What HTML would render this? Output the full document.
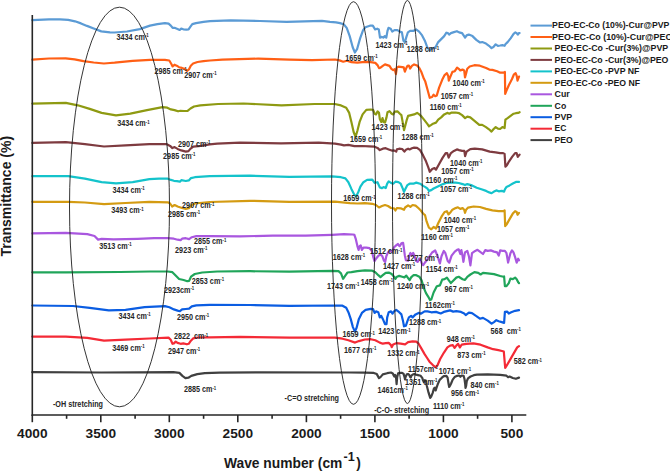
<!DOCTYPE html><html><head><meta charset="utf-8"><style>html,body{margin:0;padding:0;background:#fff;}svg{display:block;}text{font-family:"Liberation Sans",sans-serif;}</style></head><body>
<svg width="670" height="471" viewBox="0 0 670 471">
<rect width="670" height="471" fill="#fff"/>
<g fill="none" stroke-width="2.2" stroke-linejoin="round" stroke-linecap="round">
<polyline stroke="#404040" points="32.3,372.2 101.6,372.5 173.4,372.2 179.4,372.9 182.4,375.9 185.4,378.1 188.4,377.7 191.3,375.9 197.3,374.1 204.8,373.2 219.7,372.6 260,372.4 350,372.5 364.9,372.6 373.8,372.9 376.8,374.1 379,378.1 380.5,377.1 382.8,374.4 387.2,373.2 391,372.5 392.8,373.4 393.7,375.5 394.3,376.5 395.1,375 396,377 396.6,384.1 397.2,377 398.1,373.4 399.9,372.8 401.7,372.8 403.5,373.7 404.4,376.6 405,379.3 405.6,376.9 406.8,374.3 408,374 409.2,374.9 410.1,376.9 410.7,377.5 411.6,375.4 412.8,374.6 414.3,374 416,374.6 418,375.1 420.7,375.8 422.4,378.2 423.1,380.6 423.8,381.9 424.8,380.2 425.8,380.6 426.8,385.7 428.5,392.4 430.2,397.9 431.2,396.5 432.6,393.1 434,388.4 435,387.7 435.7,390.4 436.3,388.4 437.7,384.3 439.7,379.9 441.9,377.7 443.8,376.1 446.4,375.8 447.6,377.7 448.6,384.1 449.2,387 450.2,385.4 451.1,383.5 452.7,379.6 454.6,377.1 457.2,375.8 459.1,375.5 460.4,376.8 461.7,375.5 463.6,375.8 464.5,379 465.2,384.1 465.5,387.9 466.1,386 466.8,380.9 468,378.4 470.6,376.5 473.8,375.2 476.9,374.6 487.7,374.4 500.2,374.9 506.5,375.7 508.1,377.2 509.6,376.5 512.8,378 515.9,378.8 519,377.6"/>
<polyline stroke="#F42A36" points="32.3,336.6 65.8,336.6 87.3,337.8 104,340.6 125.5,339.7 149.4,338.5 168.5,337.6 170.7,339.8 172.5,343.8 173.9,343.4 175.7,341.6 177.5,342.9 180.6,343.8 183.3,343.4 186.9,344.3 188.7,343.8 190.9,340.7 193.1,338.4 197.6,337.5 209.7,337.3 240,336.8 289.3,337.6 335,337.7 342.5,338.7 348.4,340.2 355.1,342.6 358.9,341.1 364.9,339.5 370.8,339.2 375.3,340.2 379.8,342.6 382.8,343.7 385.7,343.2 388.7,342.9 391,345.1 391.7,347.1 393.2,344.4 396.2,343.2 400.7,343.7 405.1,344.4 408.1,342.2 412.6,341.4 416.3,341.7 418.6,343.7 421.6,348.9 424.6,354.1 426.8,357.5 429.5,361.7 433.1,365.3 435.7,367.4 437.5,365.3 440.2,359 443.8,352.8 447.4,347.4 450.1,345.6 452.8,345.1 454.6,347.9 456.3,345.6 458.1,343.8 459.9,347.4 461.7,344.7 466.2,343.8 473.4,343.4 480.5,344.7 487.7,347.4 493.1,349.2 498.4,350.1 502,351 503.8,351.5 505.2,368 507.4,364.4 511,358.1 514.6,351.9 517.2,347.4 519,346.1"/>
<polyline stroke="#0B5DE2" points="32.3,305.5 73,306 89.7,307.9 108.8,310.3 125.5,309.8 144.6,307.2 164.9,306.1 169.4,307.2 173.9,309.4 177.6,310.6 179.9,311.2 182.1,309.4 185.8,309 189.1,308.7 191.8,306.4 196.3,305.4 209.7,304.9 250,305 289.3,305.9 335.2,305.5 342.5,305.7 346.2,307.7 348.4,312.2 350.7,318.9 352.9,327.1 354.9,331.6 356.6,327.8 358.9,318.9 361.9,312.9 365.6,309.9 370.8,308.9 373.1,309.2 374.6,312.9 376,311.4 378.3,312.2 379.8,317.4 381.3,315.9 382.8,318.9 385,324.1 386.5,324.1 387.2,317.4 388.7,312.2 391,311.4 392.5,313.7 394,311.4 396.2,309.9 399.2,312.2 401.4,314.4 402.9,320.4 404,326.3 405.9,325.6 407.4,321.1 408.9,317.4 411.1,315.9 412.6,317.4 415.6,314.4 418.6,312.9 420.8,313.7 424.6,311.4 427.5,311.4 431.3,312.3 436,311.9 440.7,313.5 443.8,311.9 450.1,310.4 453.2,311.6 456.3,311.2 461,311.9 464.2,313.5 465.7,315.1 468.9,312.7 472,313.2 476.7,316.3 479.9,318.7 483,317.9 487.7,320.6 491.6,323.7 494,322.1 496.3,320.2 498.7,321.3 501.8,322.1 504.1,322.9 504.9,311.9 507.3,311.6 508.8,313.5 511.2,312.3 515.1,310.8 519,310.1"/>
<polyline stroke="#20A55A" points="32.3,272.3 65.8,272.3 120,272 150,271.5 167.9,271.5 172.4,272.2 175.4,275.2 179.1,279 183.6,280 187.3,281.2 189.1,280.9 191,276.7 194.8,274 202.2,272.5 217.2,271.5 250,271.2 289.3,271.7 332,270.9 338.5,271.2 341,273.4 343.1,278.8 345.1,275.8 347.5,272.5 351.4,272.2 357.4,271.1 364.9,270.4 372.3,270.7 375.3,272.2 378.3,275.2 380.5,277.1 382.8,275.2 385.7,272.9 388.7,272.6 391.7,274.1 394,276.7 395.4,278.9 396.9,276.7 399.2,275.9 402.2,276.7 404.4,277.4 406.3,275.6 408.1,278.1 409.6,280.1 411.1,277.4 413.4,275.2 416.3,275.2 419.3,276.7 421.6,280.4 423.8,287.9 426,293.1 428.3,296.8 430,300 431.3,299.5 433.6,292.5 436.8,286.2 439.9,285.4 442.2,279.6 444.6,279.2 446.9,277.6 448.5,279.9 450.9,283.1 453.2,280.7 456.3,277.6 458.7,276.8 462.6,279.2 465,279.9 467.3,276.8 470.4,274.5 474.4,272.1 478.3,272.9 480.6,274.5 483,272.9 487.7,273.4 494,274.1 500.2,276 503.4,276.8 504.1,276.5 504.9,286.2 506.5,286.2 508.8,283.1 510.4,278.7 512.8,279.2 515.1,277.6 516.7,279.2 518.2,282.3 519,283.1"/>
<polyline stroke="#A957DF" points="32.3,233.4 65.8,232.9 87.3,234.1 94.5,236 98.1,239.6 101.6,238.9 113.6,239.4 137.5,238.9 154.2,238.2 167.9,238.2 173.9,238.7 177.6,239.7 180.6,240.1 182.1,238.7 185.8,238.2 189.1,239.1 191.8,237.2 196.3,236.1 209.7,236.1 240,236.4 272.8,235.6 305.7,235.6 332,234.8 344,234.2 352.9,234.5 354.4,234.9 355.9,239.4 357.4,246.1 358.6,249.9 359.6,246.1 360.7,245.4 361.9,249.9 363.4,247.6 366.3,247.6 369.5,248.2 371.7,250.7 373.4,257.4 374.5,261.3 376.2,258.5 378.4,255.7 380.7,254.6 382.4,256.3 384,260.8 385.2,261.9 386.3,256.3 388,252.4 390.2,250.7 391.9,251.8 394.1,247.3 396.4,245.1 398,244 398.6,245.1 399.7,246.2 401.4,243.4 403.1,242.8 403.6,246.2 404.8,255.2 405.9,260.2 408.1,260.8 409.2,255.7 410.4,252.9 411.5,255.7 413.2,252.9 414.3,255.2 415.9,260.8 417.6,261.9 419.3,258.5 421,261.3 422.1,264.1 423.2,265.2 425,262.5 427.4,259.5 429.7,256 432.1,252.5 435.2,250.5 437.5,256 439.9,263.4 441.5,256.3 443.8,250.9 445.4,253.2 447.7,261 449.3,262.6 451.6,255.6 454.8,251.6 457.1,249.8 458.7,249.3 460.3,254 461.4,250.1 462.6,256.3 463.4,261.8 465,252.4 467.3,250.9 468.9,256.3 470.4,265.4 472,253.2 475.2,250.9 477.5,249.8 479.9,251.6 483,254 485.3,250.1 487.7,250.9 490.8,250.4 494,251.6 497.1,252.4 498.7,255.6 500.2,250.4 502.6,250.9 504.9,250.9 506.5,253.2 508.1,262.6 510.4,253.2 512,250.4 513.5,252.4 515.1,257.1 516.7,262.6 518.2,258.7 519,260.3"/>
<polyline stroke="#D49B12" points="32.3,201.8 68.2,201.8 84.9,202.5 104,204.2 125.5,203 149.4,201.8 167.9,202.3 170.1,203.5 172.1,206.5 174.6,205 177.6,206.5 182.1,208 185.8,209 188.8,208.3 191.8,205 194.8,203.5 209.7,202 250,200.8 289.3,201.9 335,201.6 342.5,202.3 349.9,203.1 357.4,203.5 364.9,203.1 372.3,203.8 376,205 379,207.5 382,206 385,205 388,206 391,208 394,208.3 395.4,210.5 396.9,208 400.7,208.3 404,209.8 405.1,207.5 408.1,205.3 410.4,206.8 412.6,205 415.6,205.6 418.6,208.3 420.8,210.5 423.1,213.5 425,215.1 426.6,221.4 428.9,227.7 431.3,229.3 433.6,226.9 436,228.5 438.3,223 441.5,216.7 444.6,212 446.9,211.2 448.5,214.4 450.1,212.8 452.4,209.7 455.6,208.1 457.9,207.3 460.3,208.9 462.6,208.1 464.2,209.7 465,212.8 466.1,209.7 468.1,207.6 473.6,206.5 479.9,207 486.1,208.9 492.4,210.4 498.7,211.2 503.4,211.2 504.6,210.4 505.2,226.1 506.5,224.6 509.6,219.1 512.8,213.6 515.1,211.2 516.7,212 517.5,214.8 519,212.8"/>
<polyline stroke="#14C3CB" points="32.3,176.2 68.2,176.2 84.9,178.6 101.6,182.2 116,183.4 132.7,182.2 149.4,179.1 159,178.7 167.9,178.7 170.9,179.9 173.9,180.8 176.9,181.1 179.9,181.7 181.3,180.2 185.8,181 188.8,180.4 191,178.1 194.8,177.2 209.7,176.2 250,175.7 289.3,176.9 332,176.4 341,177.2 345.4,178.4 348.4,182.2 351.4,188.9 354.4,194.9 356.2,196.3 358.1,192.6 360.4,186.6 363.4,182.2 367.1,179.9 372.3,179.6 374.6,182.9 377.5,182.2 379.8,187.4 382,188.1 383.5,187.1 385.7,188.1 387.2,183.7 388.7,181.4 391,182.9 393.2,183.7 395.4,181.7 398.4,182.2 400.7,183.7 402.9,188.9 404,191.9 405.1,189.6 407.4,185.1 409.6,183.7 413.4,183.7 416.3,182.6 420.1,183.7 423.1,185.9 425,186.9 427.4,188.5 428.9,190.9 431.3,190.1 433.6,188.5 436.8,186.9 439.9,185.4 443,184.1 446.2,183 450.1,182.6 455.6,182.6 458.7,183 462.6,184.1 465,185.1 467.3,184.1 472,185.4 476.7,187.7 481.4,189.3 486.1,190.9 489.3,192.4 491.6,193.2 494,191.6 496.3,190.4 498.7,191.3 501.8,190.9 504.1,191.6 504.9,189.3 506.5,186.9 509.6,185.4 512.8,183.5 515.9,181.9 519,181.9"/>
<polyline stroke="#7E3B40" points="32.3,142.9 65.8,142.2 84.9,144.1 104,146.5 125.5,145.3 149.4,144.1 166.4,144.1 170.1,145.9 172.4,148.1 174.6,147.1 177.6,148.9 181.3,150.4 185.8,151.6 188.5,151.1 190.3,148.9 193.3,146.6 200.7,145.9 209.7,144.4 217.2,143.7 240,142.7 281,143.4 318.8,142.7 335,143.7 341,144.6 344,145.4 348.4,144.9 354.4,146.1 361.9,146 369.3,146.4 374.6,146.7 377.5,147.9 379.8,150.1 382.8,148.7 385.7,148.2 388.7,149.4 391.7,150.6 394,150.4 396.2,151.6 396.9,149.4 399.2,148.7 402.2,149 404.4,151.6 405.9,149.7 408.1,148.7 409.6,149.4 411.9,148.2 414.1,147.6 417.1,147.9 420.1,150.1 423.1,155.4 426,161.3 428.3,167.3 429.8,171.8 432.2,169.1 434.5,168.1 436,169.6 439,164.3 442.7,157.6 445.7,153.1 447.2,153.1 448.7,157.6 450.9,153.1 453.9,150.9 456.9,149.4 459.1,150.1 462.1,150.9 464.3,150.9 465.1,156.1 466.6,151.6 470.3,149.1 474.8,148.7 482.2,149.4 489.7,151.6 495.7,152.4 500.1,153.1 503.1,153.1 504.6,153.9 505.4,166.6 506.9,165.1 509.1,161.3 512.1,156.9 515.1,153.1 516.6,153.1 517.8,156.9 519.6,154.6"/>
<polyline stroke="#8E9A12" points="32.3,103.6 65.8,102.9 77.8,105.3 89.7,108.9 101.6,112.9 116,115.3 130.3,113.7 147,110.1 162.5,107.2 167.3,107.7 170.9,109.4 174.5,110.1 178.1,111.3 180.4,110.8 184,111 187.6,110.8 190.5,108.5 194,106.5 200.3,105.3 218.1,104 243.5,103.5 281.5,105.3 314.5,104 334.8,104 341,105.4 346.2,107.7 349.2,112.9 351.4,121.9 353.7,132.3 355.6,136.8 357.4,130.8 359.6,121.9 362.6,114.4 366.3,109.9 370.8,109.5 373.1,109.9 374.6,113.7 376,114.4 377.5,111.4 379,112.9 379.8,118.9 381.3,121.9 382.5,118.1 383.5,121.9 385,122.6 386.5,117.4 387.5,112.2 389.5,111.1 391.7,113.7 393.2,114.4 394.7,111.7 397.7,111.4 399.9,113.7 401.4,115.1 402.9,123.4 404,130.1 405.1,126.3 406.6,120.4 408.1,115.9 411.1,115.1 414.1,114.4 417.1,112.9 419.3,114.4 421.6,116.6 424.6,120.4 427.5,124.1 429,126.3 431.3,124.9 433,123.7 436,122.6 438.2,119.6 441.2,117.4 444.2,114.4 447.2,112.9 449.4,113.7 451.6,112.6 455.4,112.5 459.1,113.2 462.1,115.1 465.1,118.1 467.3,116.6 470.3,117.4 474.8,121.1 479.3,124.9 482.2,124.9 486,127.1 489,129.3 491.5,131.6 493.4,129.3 495.7,127.1 497.9,128.6 500.1,129 502.4,127.1 504.6,128.1 505.4,119.6 507.6,118.1 510.6,115.9 513.6,113.7 515.8,113.2 518.1,112.9 519.6,112.2"/>
<polyline stroke="#FF5F15" points="32.3,59.7 49,58.5 65.7,58.4 74.6,59.4 83.5,61.2 93.7,62.5 103.9,63.5 110,63 114.6,62.7 132.6,60.9 150,59.8 164.9,59.8 169.3,60.5 171.5,64.2 172.6,66.4 174.5,64.7 176.7,65.7 179,67.2 181.9,67.9 184.9,69.1 187.1,70.9 188.9,69.4 190.8,65.7 193.1,63.5 197.5,62 203.5,61.2 210,60.5 222.4,59.7 258.2,58.6 289.5,59.7 312,60.1 335,59.5 339.5,60.4 343.2,61.7 346.9,60.7 351.4,62.2 357.4,62.6 364.9,61.9 370.8,62.2 375.3,62.9 377.5,65.1 379,68.1 380.5,67.7 382.8,65.9 385,64.4 387.2,65.1 389.5,65.9 391.4,68.9 393.2,70.1 394.7,69.2 395.9,74.1 396.9,67.4 398.4,66.6 402.2,67.1 403.7,67.4 404.9,71.6 406.3,68.1 407.4,65.9 408.9,65.6 410.1,68.6 411.9,65.9 414.1,64.4 417.1,65.6 419.3,68.1 421.6,72.6 423.8,78.6 425.3,81.6 427.4,89.2 429.7,97.8 432.1,97 433.6,94.7 435.2,96.2 436.8,95.4 439.1,87.6 442.2,79.8 444.6,75.1 446.9,73.2 448.2,75.9 448.8,80.6 450.1,77.4 452.4,71.9 454.8,71.2 457.1,67.6 458.7,68.8 460.3,70.4 462.6,69.6 464.2,70.4 465,77.4 466.1,73.5 467.3,68.8 469.7,66.5 474.4,65.2 479.9,65.7 486.1,68 489.3,69.6 492.4,69.9 497.1,71.2 500.2,72.7 503.4,72.7 504.9,71.9 505.2,93.9 506.5,90.7 508.8,85.3 512,79 514,74.3 515.6,73.2 516.7,75.9 517.5,80.6 519,76.6"/>
<polyline stroke="#5B9BD5" points="32.3,20.2 49,19.3 60,19.4 68.2,19.9 75,21.3 81,23.4 87,25.9 93.7,28.5 101.3,31.4 110,32.3 114.6,32.5 127,31.5 139.8,29.1 150,25.6 157.4,24.1 164.9,23.1 168.6,23.7 170.8,25.6 172.6,27.8 174.5,27.8 177.5,29 179.7,30 181.2,28.6 183.4,29.3 186.4,29.6 188.6,29.3 190.1,27.1 192.3,24.1 196,23.1 203.5,21.9 210,21.1 230.8,20.3 260,21 286.6,21.8 322,20.8 330,21.8 336,22.4 340,23.1 343.7,24.2 346.7,27.9 349.7,36.1 352.7,47.3 354.9,52.5 357.2,48.8 360.1,38.4 363.1,30.1 365.4,27.2 369.9,25.7 372.8,25.7 375.1,29.4 377.3,28.7 378.8,29.4 380,37.6 381.8,36.9 383.3,37.6 384.8,36.1 386.3,37.6 387.5,30.9 388.5,27.9 390.7,28.7 392.2,31.6 394.5,30.1 397.5,30.1 399.7,31.6 401.9,32.4 403.4,40.6 404.9,42.1 406.4,36.9 407.9,32.4 410.1,30.9 413.1,30.9 416.1,29.4 419.1,31.6 422.1,35.4 425.1,41.3 427.3,47.3 429.6,50.3 431.8,48.8 435.5,47.3 438.2,42.1 441.2,39.1 444.2,36.1 446.4,32.7 447.9,33.1 449.1,34.6 450.9,33.1 453.9,32.1 456.9,31.2 459.1,32.4 462.1,33.1 463.6,35.4 465.1,37.6 466.6,35.4 468.8,34.6 472.5,36.1 476.3,39.9 480,42.5 482.2,42.1 486,43.6 489,45.8 491.5,48.1 493.4,47 495.7,44.3 497.9,45.8 500.1,45.5 502.4,45.1 504.6,45.8 505.4,44.3 507.6,42.1 510.6,38.4 513.6,33.9 515.4,32.4 516.6,33.1 517.8,34.6 518.8,33.1 519.6,33.1"/>
</g>
<g fill="none" stroke="#1e1e1e" stroke-width="0.9">
<ellipse cx="119.5" cy="207" rx="50" ry="199.8"/>
<ellipse cx="353.5" cy="203" rx="22" ry="201.3"/>
<ellipse cx="407.4" cy="202" rx="14.9" ry="201.5"/>
</g>
<g stroke="#262626" stroke-width="1.6" fill="none">
<line x1="32.3" y1="15" x2="32.3" y2="415.8"/>
<line x1="31.5" y1="415" x2="526.3" y2="415"/>
<line x1="32.3" y1="415" x2="32.3" y2="422.2"/>
<line x1="100.8" y1="415" x2="100.8" y2="422.2"/>
<line x1="169.3" y1="415" x2="169.3" y2="422.2"/>
<line x1="237.8" y1="415" x2="237.8" y2="422.2"/>
<line x1="306.4" y1="415" x2="306.4" y2="422.2"/>
<line x1="374.9" y1="415" x2="374.9" y2="422.2"/>
<line x1="443.4" y1="415" x2="443.4" y2="422.2"/>
<line x1="511.9" y1="415" x2="511.9" y2="422.2"/>
<line x1="66.6" y1="415" x2="66.6" y2="418.8"/>
<line x1="135.1" y1="415" x2="135.1" y2="418.8"/>
<line x1="203.6" y1="415" x2="203.6" y2="418.8"/>
<line x1="272.1" y1="415" x2="272.1" y2="418.8"/>
<line x1="340.6" y1="415" x2="340.6" y2="418.8"/>
<line x1="409.1" y1="415" x2="409.1" y2="418.8"/>
<line x1="477.6" y1="415" x2="477.6" y2="418.8"/>
</g>
<g font-size="13.7" font-weight="bold" fill="#1a1a1a" text-anchor="middle">
<text x="32.3" y="438.2">4000</text>
<text x="100.8" y="438.2">3500</text>
<text x="169.3" y="438.2">3000</text>
<text x="237.8" y="438.2">2500</text>
<text x="306.4" y="438.2">2000</text>
<text x="374.9" y="438.2">1500</text>
<text x="443.4" y="438.2">1000</text>
<text x="511.9" y="438.2">500</text>
</g>
<text x="224" y="467.6" font-size="13.8" font-weight="bold" fill="#1a1a1a">Wave number (cm<tspan font-size="12.6" dx="1.2" dy="-6.8">-1</tspan><tspan dx="1.5" dy="6.8">)</tspan></text>
<text transform="translate(11.2,196.2) rotate(-90)" text-anchor="middle" font-size="14" font-weight="bold" fill="#1a1a1a">Transmittance (%)</text>
<g font-size="8.4" font-weight="bold" fill="#262626" letter-spacing="0">
<text transform="translate(116.4,40.2) scale(0.86,1)" xml:space="preserve">3434 cm<tspan font-size="5.0" dy="-2.8">-1</tspan></text>
<text transform="translate(375.4,47.5) scale(0.86,1)" xml:space="preserve">1423 cm<tspan font-size="5.0" dy="-2.8">-1</tspan></text>
<text transform="translate(406.7,52.3) scale(0.86,1)" xml:space="preserve">1288 cm<tspan font-size="5.0" dy="-2.8">-1</tspan></text>
<text transform="translate(345.3,60.9) scale(0.86,1)" xml:space="preserve">1659 cm<tspan font-size="5.0" dy="-2.8">-1</tspan></text>
<text transform="translate(154.5,73.9) scale(0.86,1)" xml:space="preserve">2985 cm<tspan font-size="5.0" dy="-2.8">-1</tspan></text>
<text transform="translate(184.2,78.1) scale(0.86,1)" xml:space="preserve">2907 cm<tspan font-size="5.0" dy="-2.8">-1</tspan></text>
<text transform="translate(452.4,85.9) scale(0.86,1)" xml:space="preserve">1040 cm<tspan font-size="5.0" dy="-2.8">-1</tspan></text>
<text transform="translate(440.7,98.6) scale(0.86,1)" xml:space="preserve">1057 cm<tspan font-size="5.0" dy="-2.8">-1</tspan></text>
<text transform="translate(429.7,109.9) scale(0.86,1)" xml:space="preserve">1160 cm<tspan font-size="5.0" dy="-2.8">-1</tspan></text>
<text transform="translate(117.2,126.4) scale(0.86,1)" xml:space="preserve">3434 cm<tspan font-size="5.0" dy="-2.8">-1</tspan></text>
<text transform="translate(371.6,129.8) scale(0.86,1)" xml:space="preserve">1423 cm<tspan font-size="5.0" dy="-2.8">-1</tspan></text>
<text transform="translate(349.9,142.2) scale(0.86,1)" xml:space="preserve">1659 cm<tspan font-size="5.0" dy="-2.8">-1</tspan></text>
<text transform="translate(401.4,139.9) scale(0.86,1)" xml:space="preserve">1288 cm<tspan font-size="5.0" dy="-2.8">-1</tspan></text>
<text transform="translate(178,146.8) scale(0.86,1)" xml:space="preserve">2907 cm<tspan font-size="5.0" dy="-2.8">-1</tspan></text>
<text transform="translate(163.1,159) scale(0.86,1)" xml:space="preserve">2985 cm<tspan font-size="5.0" dy="-2.8">-1</tspan></text>
<text transform="translate(450.1,165.5) scale(0.86,1)" xml:space="preserve">1040 cm<tspan font-size="5.0" dy="-2.8">-1</tspan></text>
<text transform="translate(441.2,173.7) scale(0.86,1)" xml:space="preserve">1057 cm<tspan font-size="5.0" dy="-2.8">-1</tspan></text>
<text transform="translate(425.5,182.5) scale(0.86,1)" xml:space="preserve">1160 cm<tspan font-size="5.0" dy="-2.8">-1</tspan></text>
<text transform="translate(112.4,192.5) scale(0.86,1)" xml:space="preserve">3434 cm<tspan font-size="5.0" dy="-2.8">-1</tspan></text>
<text transform="translate(343.2,201.3) scale(0.86,1)" xml:space="preserve">1659 cm<tspan font-size="5.0" dy="-2.8">-1</tspan></text>
<text transform="translate(397.4,198.7) scale(0.86,1)" xml:space="preserve">1288 cm<tspan font-size="5.0" dy="-2.8">-1</tspan></text>
<text transform="translate(439.9,192) scale(0.86,1)" xml:space="preserve">1057 cm<tspan font-size="5.0" dy="-2.8">-1</tspan></text>
<text transform="translate(111.2,213.3) scale(0.86,1)" xml:space="preserve">3493 cm<tspan font-size="5.0" dy="-2.8">-1</tspan></text>
<text transform="translate(182.1,208.3) scale(0.86,1)" xml:space="preserve">2907 cm<tspan font-size="5.0" dy="-2.8">-1</tspan></text>
<text transform="translate(167.9,217) scale(0.86,1)" xml:space="preserve">2985 cm<tspan font-size="5.0" dy="-2.8">-1</tspan></text>
<text transform="translate(443.8,222.9) scale(0.86,1)" xml:space="preserve">1040 cm<tspan font-size="5.0" dy="-2.8">-1</tspan></text>
<text transform="translate(437,231.7) scale(0.86,1)" xml:space="preserve">1057 cm<tspan font-size="5.0" dy="-2.8">-1</tspan></text>
<text transform="translate(421,239.7) scale(0.86,1)" xml:space="preserve">1160 cm<tspan font-size="5.0" dy="-2.8">-1</tspan></text>
<text transform="translate(99.2,248.7) scale(0.86,1)" xml:space="preserve">3513 cm<tspan font-size="5.0" dy="-2.8">-1</tspan></text>
<text transform="translate(194,244.3) scale(0.86,1)" xml:space="preserve">2855 cm<tspan font-size="5.0" dy="-2.8">-1</tspan></text>
<text transform="translate(175.1,252.6) scale(0.86,1)" xml:space="preserve">2923 cm<tspan font-size="5.0" dy="-2.8">-1</tspan></text>
<text transform="translate(332.8,259.6) scale(0.86,1)" xml:space="preserve">1628 cm<tspan font-size="5.0" dy="-2.8">-1</tspan></text>
<text transform="translate(370,254.3) scale(0.86,1)" xml:space="preserve">1512 cm<tspan font-size="5.0" dy="-2.8">-1</tspan></text>
<text transform="translate(382.9,268.8) scale(0.86,1)" xml:space="preserve">1427 cm<tspan font-size="5.0" dy="-2.8">-1</tspan></text>
<text transform="translate(406.4,260.7) scale(0.86,1)" xml:space="preserve">1277 cm<tspan font-size="5.0" dy="-2.8">-1</tspan></text>
<text transform="translate(425.8,272.2) scale(0.86,1)" xml:space="preserve">1154 cm<tspan font-size="5.0" dy="-2.8">-1</tspan></text>
<text transform="translate(191.8,284.2) scale(0.86,1)" xml:space="preserve">2853 cm<tspan font-size="5.0" dy="-2.8">-1</tspan></text>
<text transform="translate(163.9,292.5) scale(0.86,1)" xml:space="preserve">2923cm<tspan font-size="5.0" dy="-2.8">-1</tspan></text>
<text transform="translate(327,288.7) scale(0.86,1)" xml:space="preserve">1743 cm<tspan font-size="5.0" dy="-2.8">-1</tspan></text>
<text transform="translate(360.7,284.9) scale(0.86,1)" xml:space="preserve">1458 cm<tspan font-size="5.0" dy="-2.8">-1</tspan></text>
<text transform="translate(396.9,288.8) scale(0.86,1)" xml:space="preserve">1240 cm<tspan font-size="5.0" dy="-2.8">-1</tspan></text>
<text transform="translate(444.6,292) scale(0.86,1)" xml:space="preserve">967 cm<tspan font-size="5.0" dy="-2.8">-1</tspan></text>
<text transform="translate(425,308) scale(0.86,1)" xml:space="preserve">1162cm<tspan font-size="5.0" dy="-2.8">-1</tspan></text>
<text transform="translate(118.4,318.5) scale(0.86,1)" xml:space="preserve">3434 cm<tspan font-size="5.0" dy="-2.8">-1</tspan></text>
<text transform="translate(176.9,320) scale(0.86,1)" xml:space="preserve">2950 cm<tspan font-size="5.0" dy="-2.8">-1</tspan></text>
<text transform="translate(342.5,337.3) scale(0.86,1)" xml:space="preserve">1659 cm<tspan font-size="5.0" dy="-2.8">-1</tspan></text>
<text transform="translate(378.3,334.3) scale(0.86,1)" xml:space="preserve">1423 cm<tspan font-size="5.0" dy="-2.8">-1</tspan></text>
<text transform="translate(408.9,325.3) scale(0.86,1)" xml:space="preserve">1288 cm<tspan font-size="5.0" dy="-2.8">-1</tspan></text>
<text transform="translate(490.6,333.7) scale(0.86,1)" xml:space="preserve">568  cm<tspan font-size="5.0" dy="-2.8">-1</tspan></text>
<text transform="translate(112.3,351.2) scale(0.86,1)" xml:space="preserve">3469 cm<tspan font-size="5.0" dy="-2.8">-1</tspan></text>
<text transform="translate(173.9,339.3) scale(0.86,1)" xml:space="preserve">2822  cm<tspan font-size="5.0" dy="-2.8">-1</tspan></text>
<text transform="translate(167.9,353.9) scale(0.86,1)" xml:space="preserve">2947 cm<tspan font-size="5.0" dy="-2.8">-1</tspan></text>
<text transform="translate(344,352.8) scale(0.86,1)" xml:space="preserve">1677 cm<tspan font-size="5.0" dy="-2.8">-1</tspan></text>
<text transform="translate(387.2,356.4) scale(0.86,1)" xml:space="preserve">1332 cm<tspan font-size="5.0" dy="-2.8">-1</tspan></text>
<text transform="translate(408.1,372) scale(0.86,1)" xml:space="preserve">1157cm<tspan font-size="5.0" dy="-2.8">-1</tspan></text>
<text transform="translate(446.7,342.1) scale(0.86,1)" xml:space="preserve">948 cm<tspan font-size="5.0" dy="-2.8">-1</tspan></text>
<text transform="translate(457.3,357.6) scale(0.86,1)" xml:space="preserve">873 cm<tspan font-size="5.0" dy="-2.8">-1</tspan></text>
<text transform="translate(438.8,373.5) scale(0.86,1)" xml:space="preserve">1071 cm<tspan font-size="5.0" dy="-2.8">-1</tspan></text>
<text transform="translate(513.7,364.4) scale(0.86,1)" xml:space="preserve">582 cm<tspan font-size="5.0" dy="-2.8">-1</tspan></text>
<text transform="translate(183.9,392.3) scale(0.86,1)" xml:space="preserve">2885 cm<tspan font-size="5.0" dy="-2.8">-1</tspan></text>
<text transform="translate(377.5,393.1) scale(0.86,1)" xml:space="preserve">1461cm<tspan font-size="5.0" dy="-2.8">-1</tspan></text>
<text transform="translate(405.1,384.6) scale(0.86,1)" xml:space="preserve">1351 cm<tspan font-size="5.0" dy="-2.8">-1</tspan></text>
<text transform="translate(432.9,408.5) scale(0.86,1)" xml:space="preserve">1110 cm<tspan font-size="5.0" dy="-2.8">-1</tspan></text>
<text transform="translate(450.9,396.4) scale(0.86,1)" xml:space="preserve">956 cm<tspan font-size="5.0" dy="-2.8">-1</tspan></text>
<text transform="translate(470.5,387.8) scale(0.86,1)" xml:space="preserve">840 cm<tspan font-size="5.0" dy="-2.8">-1</tspan></text>
</g>
<g font-size="8.4" font-weight="bold" fill="#262626">
<text transform="translate(52.9,407.1) scale(0.86,1)">-OH stretching</text>
<text transform="translate(284.6,401.3) scale(0.86,1)">-C=O stretching</text>
<text transform="translate(374.2,412.6) scale(0.86,1)">-C-O- stretching</text>
</g>
<g font-size="9.4" font-weight="bold" fill="#1a1a1a">
<line x1="530.5" y1="25.6" x2="552" y2="25.6" stroke="#5B9BD5" stroke-width="2"/>
<text x="552.1" y="28.4" textLength="117.2" lengthAdjust="spacingAndGlyphs">PEO-EC-Co (10%)-Cur@PVP</text>
<line x1="530.5" y1="37" x2="552" y2="37" stroke="#FF5F15" stroke-width="2"/>
<text x="552.1" y="39.8" textLength="120.2" lengthAdjust="spacingAndGlyphs">PEO-EC-Co (10%)-Cur@PEO</text>
<line x1="530.5" y1="48.5" x2="552" y2="48.5" stroke="#8E9A12" stroke-width="2"/>
<text x="554.6" y="51.2" textLength="113.6" lengthAdjust="spacingAndGlyphs">PEO-EC-Co -Cur(3%)@PVP</text>
<line x1="530.5" y1="59.9" x2="552" y2="59.9" stroke="#7E3B40" stroke-width="2"/>
<text x="554.6" y="62.7" textLength="113.8" lengthAdjust="spacingAndGlyphs">PEO-EC-Co -Cur(3%)@PEO</text>
<line x1="530.5" y1="71.4" x2="552" y2="71.4" stroke="#14C3CB" stroke-width="2"/>
<text x="554.6" y="74.2" textLength="84.8" lengthAdjust="spacingAndGlyphs">PEO-EC-Co -PVP NF</text>
<line x1="530.5" y1="82.8" x2="552" y2="82.8" stroke="#D49B12" stroke-width="2"/>
<text x="554.6" y="85.6" textLength="85.4" lengthAdjust="spacingAndGlyphs">PEO-EC-Co -PEO NF</text>
<line x1="530.5" y1="94.3" x2="552" y2="94.3" stroke="#A957DF" stroke-width="2"/>
<text x="554.6" y="97" textLength="15.2" lengthAdjust="spacingAndGlyphs">Cur</text>
<line x1="530.5" y1="105.8" x2="552" y2="105.8" stroke="#20A55A" stroke-width="2"/>
<text x="554.6" y="108.5" textLength="11.6" lengthAdjust="spacingAndGlyphs">Co</text>
<line x1="530.5" y1="117.2" x2="552" y2="117.2" stroke="#0B5DE2" stroke-width="2"/>
<text x="554.6" y="119.9" textLength="17.6" lengthAdjust="spacingAndGlyphs">PVP</text>
<line x1="530.5" y1="128.7" x2="552" y2="128.7" stroke="#F42A36" stroke-width="2"/>
<text x="554.6" y="131.4" textLength="11.8" lengthAdjust="spacingAndGlyphs">EC</text>
<line x1="530.5" y1="140.1" x2="552" y2="140.1" stroke="#404040" stroke-width="2"/>
<text x="554.6" y="142.8" textLength="18.2" lengthAdjust="spacingAndGlyphs">PEO</text>
</g>
</svg></body></html>
